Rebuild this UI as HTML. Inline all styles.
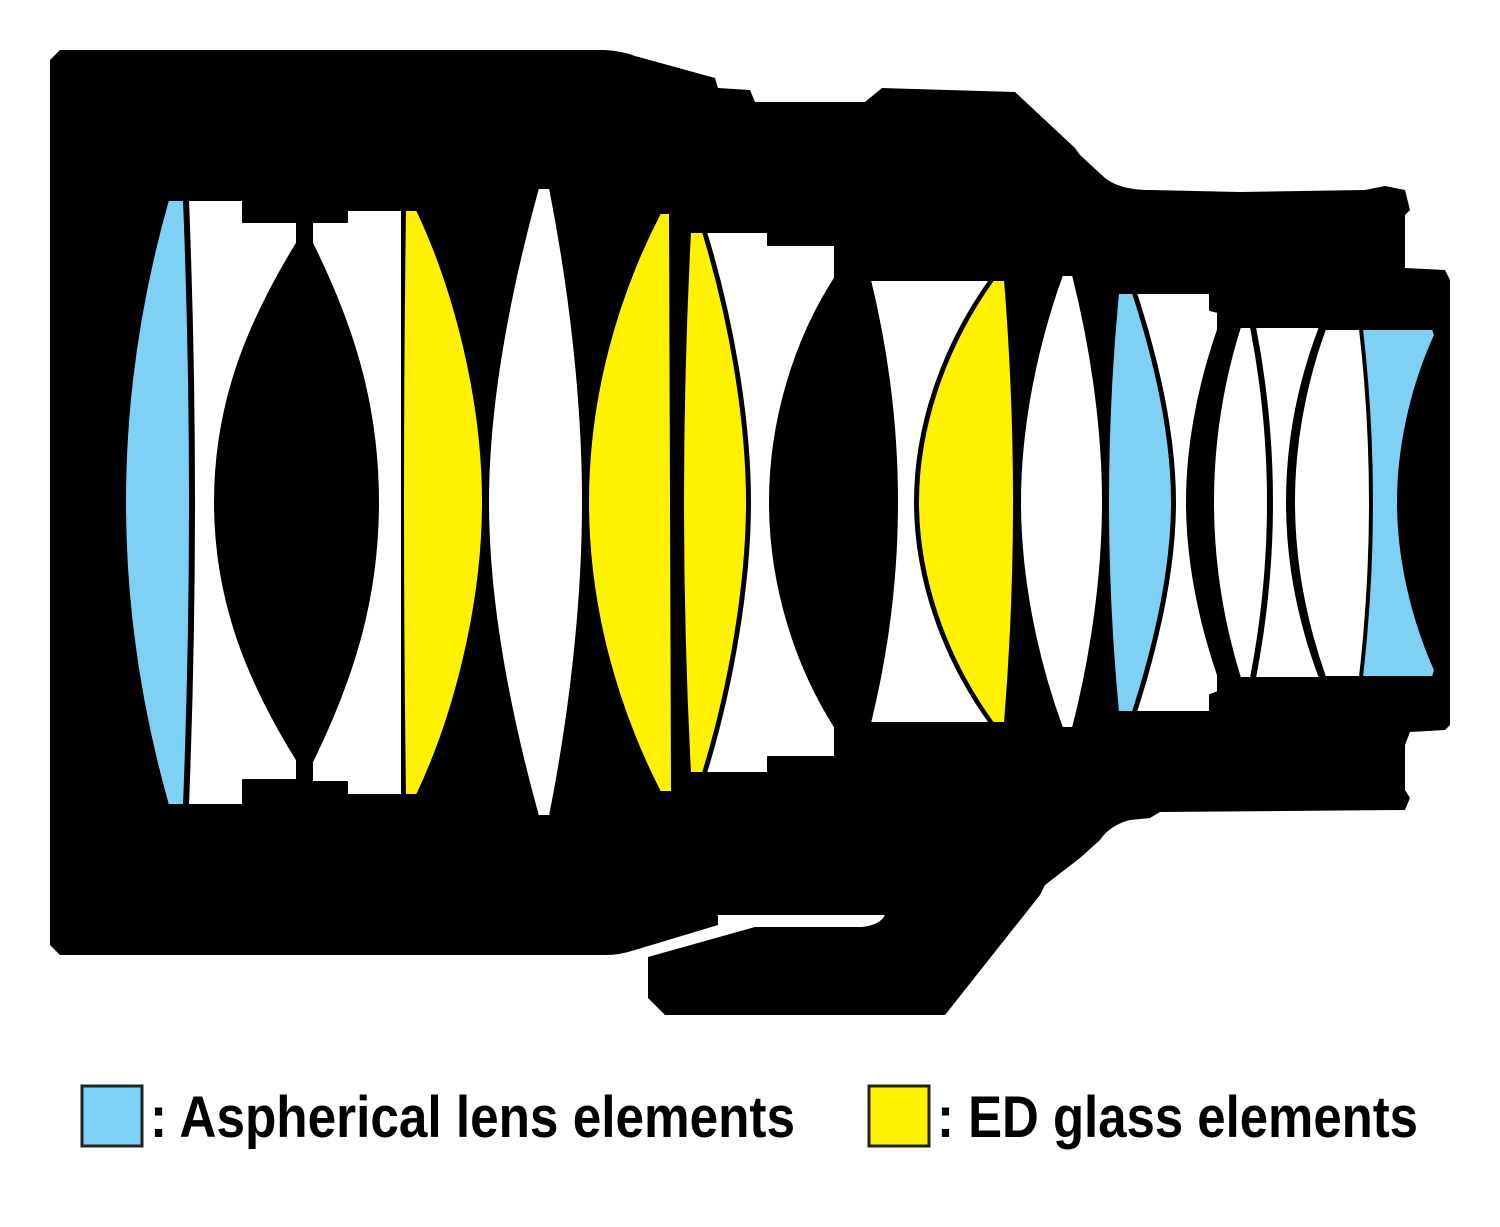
<!DOCTYPE html>
<html><head><meta charset="utf-8"><style>html,body{margin:0;padding:0;background:#fff}svg{display:block}</style></head>
<body>
<svg width="1500" height="1227" viewBox="0 0 1500 1227" xmlns="http://www.w3.org/2000/svg">
<rect width="1500" height="1227" fill="#fff"/>
<path fill="#000" d="M50,60 L60,50 L605,50 Q622,51 635,56 L715,78 L718,88 L750,90 L755,102 L865,102 L882,88 L1015,92 L1075,148 L1080,155 L1105,178 Q1120,190 1150,190 L1240,192 L1365,190 L1385,186 L1405,190 L1410,210 L1405,215 L1405,268 L1445,270 L1450,280 L1450,725 L1445,730 L1410,732 L1405,745 L1405,790 L1410,798 L1405,810 L1160,812 L1150,818 L1130,820 Q1110,825 1100,840 L1080,858 L1045,885 L1040,895 L945,1015 L665,1015 L648,998 L648,957 L755,927 L862,927 Q880,925 885,915 L718,915 L718,925 L635,950 Q620,955 605,955 L60,955 L50,945 Z"/>
<g stroke="#000" stroke-width="2" stroke-linejoin="round">
<path fill="#7fd0f5" d="M168,200 L184,200 Q196,502 184,805 L168,805 Q82,502 168,200 Z"/>
<path fill="#fff" d="M188,200 L243,200 L243,222 L297,222 L297,243 C250,320 215,400 215,502 C215,604 250,684 297,760 L297,780 L243,780 L243,805 L188,805 Q200,502 188,200 Z"/>
<path fill="#fff" d="M312,222 L347,222 L347,210 L402,210 L402,795 L347,795 L347,782 L312,782 L312,762 C350,684 378,604 378,502 C378,400 350,320 312,243 Z"/>
<path fill="#fff200" d="M405,210 L417,210 C455,290 483,400 483,502 C483,604 455,715 417,795 L405,795 Q401,502 405,210 Z"/>
<path fill="#fff" d="M538,188 L550,188 C570,290 583,400 583,502 C583,604 570,715 550,816 L538,816 C510,715 488,604 488,502 C488,400 510,290 538,188 Z"/>
<path fill="#fff200" d="M660,213 L670,213 L672,792 L660,792 C615,704 588,604 588,502 C588,400 615,300 660,213 Z"/>
<path fill="#fff200" d="M690,232 L703,232 C730,320 747,420 747,502 C747,584 730,685 703,773 L690,773 Q676,502 690,232 Z"/>
<path fill="#fff" d="M706,232 L768,232 L768,245 L835,245 L835,278 C795,340 770,420 770,502 C770,584 795,664 835,727 L835,757 L768,757 L768,773 L706,773 C733,685 750,584 750,502 C750,420 733,320 706,232 Z"/>
<path fill="#fff" d="M870,280 L990,280 C940,350 915,430 915,502 C915,574 940,654 990,723 L870,723 C888,650 897,574 897,502 C897,430 888,354 870,280 Z"/>
<path fill="#fff200" d="M993,280 L1005,280 Q1023,502 1005,723 L993,723 C943,654 918,574 918,502 C918,430 943,350 993,280 Z"/>
<path fill="#fff" d="M1062,275 L1073,275 C1092,350 1103,430 1103,502 C1103,574 1092,654 1073,728 L1062,728 C1035,654 1020,574 1020,502 C1020,430 1035,350 1062,275 Z"/>
<path fill="#7fd0f5" d="M1118,293 L1133,293 C1158,370 1172,440 1172,502 C1172,564 1158,634 1133,712 L1118,712 Q1098,502 1118,293 Z"/>
<path fill="#fff" d="M1136,293 L1210,293 L1210,310 L1218,312 L1218,330 C1197,390 1187,450 1187,502 C1187,554 1197,614 1218,675 L1218,692 L1210,695 L1210,712 L1136,712 C1161,634 1175,564 1175,502 C1175,440 1161,370 1136,293 Z"/>
<path fill="#fff" d="M1240,327 L1251,327 Q1285,502 1251,678 L1240,678 C1222,620 1213,560 1213,502 C1213,444 1222,384 1240,327 Z"/>
<path fill="#fff" d="M1255,327 L1320,327 C1298,384 1287,444 1287,502 C1287,560 1298,620 1320,678 L1255,678 Q1289,502 1255,327 Z"/>
<path fill="#fff" d="M1325,329 L1360,329 Q1380,502 1360,677 L1325,677 C1305,620 1294,560 1294,502 C1294,444 1305,384 1325,329 Z"/>
<path fill="#7fd0f5" d="M1362,329 L1433,329 L1435,335 C1410,390 1398,450 1398,502 C1398,554 1410,614 1435,670 L1433,677 L1362,677 Q1382,502 1362,329 Z"/>
</g>
<rect x="82" y="1086" width="60" height="60" fill="#7fd0f5" stroke="#222" stroke-width="3"/>
<rect x="869" y="1086" width="60" height="60" fill="#fff200" stroke="#222" stroke-width="3"/>
<g font-family="Liberation Sans, sans-serif" font-weight="bold" font-size="58" fill="#000">
<text x="150" y="1137" textLength="645" lengthAdjust="spacingAndGlyphs">: Aspherical lens elements</text>
<text x="937" y="1137" textLength="481" lengthAdjust="spacingAndGlyphs">: ED glass elements</text>
</g>
</svg>
</body></html>
